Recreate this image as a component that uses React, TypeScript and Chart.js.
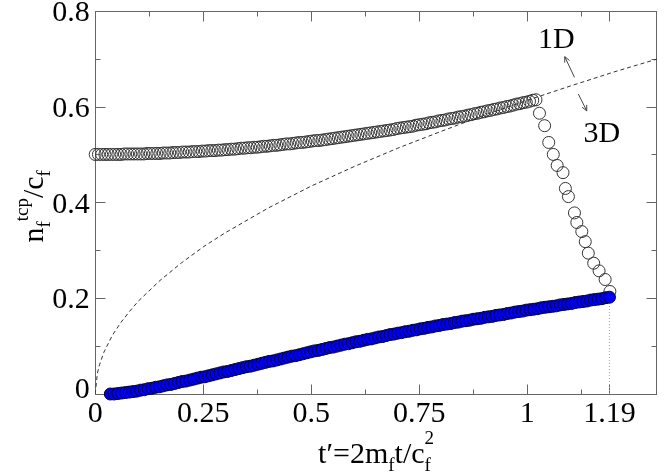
import React, { useEffect, useRef } from 'react';
import { Chart, registerables } from 'chart.js';

Chart.register(...registerables);

// ---- axis ticks ----
const X_MAJOR = [0, 0.25, 0.5, 0.75, 1, 1.19];
const X_LABELS = ['0', '0.25', '0.5', '0.75', '1', '1.19'];
const X_MINOR = [0.125, 0.375, 0.625, 0.875, 1.125];
const Y_MAJOR = [0, 0.2, 0.4, 0.6, 0.8];
const Y_LABELS = ['0', '0.2', '0.4', '0.6', '0.8'];
const Y_MINOR = [0.1, 0.3, 0.5, 0.7];

// ---- open circles: flat branch (t = OPEN_T0 + i*OPEN_DT) ----
const OPEN_T0 = 0;
const OPEN_DT = 0.0075;
const OPEN_FLAT_Y = [
  0.500, 0.500, 0.500, 0.500, 0.500, 0.500, 0.500, 0.500, 0.500, 0.501,
  0.501, 0.501, 0.501, 0.501, 0.501, 0.501, 0.502, 0.502, 0.502, 0.502,
  0.502, 0.503, 0.503, 0.503, 0.504, 0.504, 0.504, 0.505, 0.505, 0.505,
  0.506, 0.506, 0.506, 0.507, 0.507, 0.508, 0.508, 0.508, 0.509, 0.509,
  0.510, 0.510, 0.511, 0.511, 0.512, 0.513, 0.513, 0.514, 0.514, 0.515,
  0.515, 0.516, 0.517, 0.517, 0.518, 0.519, 0.519, 0.520, 0.521, 0.522,
  0.522, 0.523, 0.524, 0.525, 0.525, 0.526, 0.527, 0.528, 0.529, 0.529,
  0.530, 0.531, 0.532, 0.533, 0.534, 0.535, 0.536, 0.537, 0.538, 0.539,
  0.540, 0.541, 0.542, 0.543, 0.544, 0.545, 0.546, 0.547, 0.548, 0.549,
  0.550, 0.551, 0.552, 0.554, 0.555, 0.556, 0.557, 0.558, 0.559, 0.561,
  0.562, 0.563, 0.564, 0.566, 0.567, 0.568, 0.570, 0.571, 0.572, 0.574,
  0.575, 0.576, 0.578, 0.579, 0.580, 0.582, 0.583, 0.585, 0.586, 0.588,
  0.589, 0.591, 0.592, 0.594, 0.595, 0.597, 0.598, 0.600, 0.601, 0.603,
  0.605, 0.606, 0.608, 0.609, 0.611, 0.613, 0.614,
];
// ---- open circles: dropping branch ----
const OPEN_DROP_X = [1.028, 1.040, 1.0495, 1.060, 1.069, 1.0825, 1.088, 1.095, 1.109, 1.1145, 1.126, 1.134, 1.141, 1.1535, 1.166, 1.180, 1.191];
const OPEN_DROP_Y = [0.586, 0.560, 0.525, 0.500, 0.477, 0.462, 0.429, 0.412, 0.378, 0.358, 0.339, 0.318, 0.294, 0.273, 0.257, 0.239, 0.214];

// ---- filled blue circles (t = BLUE_T0 + k*BLUE_DT) ----
const BLUE_T0 = 0.035;
const BLUE_DT = 0.00875;
const BLUE_Y = [
  0.000, 0.000, 0.001, 0.002, 0.003, 0.004, 0.005, 0.006, 0.008, 0.009,
  0.011, 0.012, 0.014, 0.015, 0.017, 0.019, 0.020, 0.022, 0.024, 0.026,
  0.027, 0.029, 0.031, 0.033, 0.035, 0.036, 0.038, 0.040, 0.042, 0.044,
  0.046, 0.047, 0.049, 0.051, 0.053, 0.055, 0.057, 0.058, 0.060, 0.062,
  0.064, 0.066, 0.068, 0.069, 0.071, 0.073, 0.075, 0.077, 0.079, 0.080,
  0.082, 0.084, 0.086, 0.088, 0.090, 0.091, 0.093, 0.095, 0.097, 0.098,
  0.100, 0.102, 0.104, 0.105, 0.107, 0.109, 0.110, 0.112, 0.114, 0.115,
  0.117, 0.119, 0.120, 0.122, 0.124, 0.125, 0.127, 0.128, 0.130, 0.131,
  0.133, 0.134, 0.136, 0.137, 0.139, 0.140, 0.142, 0.143, 0.145, 0.146,
  0.147, 0.149, 0.150, 0.152, 0.153, 0.154, 0.156, 0.157, 0.158, 0.160,
  0.161, 0.162, 0.164, 0.165, 0.166, 0.168, 0.169, 0.171, 0.172, 0.173,
  0.175, 0.176, 0.177, 0.178, 0.180, 0.181, 0.182, 0.183, 0.184, 0.186,
  0.187, 0.188, 0.189, 0.191, 0.192, 0.193, 0.194, 0.196, 0.197, 0.198,
  0.199, 0.201, 0.202,
];

// ---- dashed 1D/3D boundary curve ----
const DASH_X = [0, 0.005, 0.01, 0.02, 0.04, 0.06, 0.08, 0.1, 0.15, 0.2, 0.25, 0.3, 0.4, 0.5, 0.6, 0.7, 0.8, 0.9, 1.0, 1.1, 1.2, 1.3];
const DASH_Y = [0, 0.043, 0.061, 0.087, 0.123, 0.150, 0.173, 0.194, 0.237, 0.274, 0.307, 0.336, 0.388, 0.434, 0.475, 0.513, 0.548, 0.582, 0.613, 0.643, 0.672, 0.699];

// ---- dotted vertical marker at t' = 1.19 ----
const DOT_X = [1.19, 1.19];
const DOT_Y = [0, 0.2];

// ---- annotations ----
const NOTE_1D = { text: '1D', x: 1.067, y: 0.7215 };
const NOTE_3D = { text: '3D', x: 1.1726, y: 0.5266 };
const ARROW_UP = { x0: 1.109, y0: 0.661, x1: 1.0866, y1: 0.704 };
const ARROW_DOWN = { x0: 1.118, y0: 0.626, x1: 1.1375, y1: 0.591 };

const SERIF = '"Liberation Serif", "Times New Roman", serif';
const MAIN = 30;
const SMALL = 19;

type Part = { t?: string; s?: 'sub' | 'sup'; stack?: [string, string] };

function partWidth(ctx: CanvasRenderingContext2D, p: Part) {
  if (p.stack) {
    ctx.font = `${SMALL}px ${SERIF}`;
    return Math.max(ctx.measureText(p.stack[0]).width, ctx.measureText(p.stack[1]).width);
  }
  ctx.font = `${p.s ? SMALL : MAIN}px ${SERIF}`;
  return ctx.measureText(p.t || '').width;
}

function drawRich(ctx: CanvasRenderingContext2D, parts: Part[], cx: number, baseY: number, subOff: number, supOff: number) {
  let total = 0;
  for (const p of parts) total += partWidth(ctx, p);
  let x = cx - total / 2;
  ctx.textAlign = 'left';
  ctx.textBaseline = 'alphabetic';
  for (const p of parts) {
    const w = partWidth(ctx, p);
    if (p.stack) {
      ctx.font = `${SMALL}px ${SERIF}`;
      ctx.fillText(p.stack[0], x, baseY + subOff);
      ctx.fillText(p.stack[1], x, baseY + supOff);
    } else {
      ctx.font = `${p.s ? SMALL : MAIN}px ${SERIF}`;
      const dy = p.s === 'sub' ? subOff : p.s === 'sup' ? supOff : 0;
      ctx.fillText(p.t || '', x, baseY + dy);
    }
    x += w;
  }
}

function arrow(ctx: CanvasRenderingContext2D, x0: number, y0: number, x1: number, y1: number) {
  ctx.beginPath();
  ctx.moveTo(x0, y0);
  ctx.lineTo(x1, y1);
  const a = Math.atan2(y1 - y0, x1 - x0);
  const L = 6;
  const s = 0.45;
  ctx.moveTo(x1 - L * Math.cos(a - s), y1 - L * Math.sin(a - s));
  ctx.lineTo(x1, y1);
  ctx.lineTo(x1 - L * Math.cos(a + s), y1 - L * Math.sin(a + s));
  ctx.stroke();
}

const decor = {
  id: 'decor',
  beforeDatasetsDraw(chart: any) {
    const ctx: CanvasRenderingContext2D = chart.ctx;
    const { left, right, top, bottom } = chart.chartArea;
    const xs = chart.scales.x;
    const ys = chart.scales.y;
    ctx.save();
    ctx.strokeStyle = '#666';
    ctx.lineWidth = 1;
    const L = Math.round(left) + 0.5;
    const R = Math.round(right) - 0.5;
    const T = Math.round(top) + 0.5;
    const B = Math.round(bottom) + 0.5;
    ctx.strokeRect(L, T, R - L, B - T);
    ctx.beginPath();
    const xt = (v: number, len: number) => {
      const px = Math.round(xs.getPixelForValue(v)) + 0.5;
      ctx.moveTo(px, B); ctx.lineTo(px, B - len);
      ctx.moveTo(px, T); ctx.lineTo(px, T + len);
    };
    const yt = (v: number, len: number) => {
      const py = Math.round(ys.getPixelForValue(v)) + 0.5;
      ctx.moveTo(L, py); ctx.lineTo(L + len, py);
      ctx.moveTo(R, py); ctx.lineTo(R - len, py);
    };
    X_MAJOR.forEach((v) => xt(v, 10));
    X_MINOR.forEach((v) => xt(v, 5));
    Y_MAJOR.forEach((v) => yt(v, 10));
    Y_MINOR.forEach((v) => yt(v, 5));
    ctx.stroke();
    ctx.restore();
  },
  afterDatasetsDraw(chart: any) {
    const ctx: CanvasRenderingContext2D = chart.ctx;
    const { left, right, top, bottom } = chart.chartArea;
    const xs = chart.scales.x;
    const ys = chart.scales.y;
    ctx.save();
    ctx.fillStyle = '#000';
    ctx.font = `${MAIN}px ${SERIF}`;
    ctx.textBaseline = 'alphabetic';
    // x tick labels
    ctx.textAlign = 'center';
    X_MAJOR.forEach((v, i) => {
      ctx.fillText(X_LABELS[i], xs.getPixelForValue(v), bottom + 28.3);
    });
    // y tick labels
    ctx.textAlign = 'right';
    Y_MAJOR.forEach((v, i) => {
      const py = ys.getPixelForValue(v);
      ctx.fillText(Y_LABELS[i], left - 5.5, py + (i === 0 ? 4 : 10.3));
    });
    // x title
    drawRich(ctx, [{ t: 't\u2032=2m' }, { t: 'f', s: 'sub' }, { t: 't/c' }, { stack: ['f', '2'] }],
      (left + right) / 2, 463, 8, -19);
    // y title
    ctx.save();
    ctx.translate(43, (top + bottom) / 2 + 4);
    ctx.rotate(-Math.PI / 2);
    drawRich(ctx, [{ t: 'n' }, { t: 'f', s: 'sub' }, { t: 'tcp', s: 'sup' }, { t: '/c' }, { t: 'f', s: 'sub' }],
      0, 0, 7, -15);
    ctx.restore();
    // annotations
    ctx.font = `${MAIN}px ${SERIF}`;
    ctx.textAlign = 'center';
    ctx.fillText(NOTE_1D.text, xs.getPixelForValue(NOTE_1D.x), ys.getPixelForValue(NOTE_1D.y));
    ctx.fillText(NOTE_3D.text, xs.getPixelForValue(NOTE_3D.x), ys.getPixelForValue(NOTE_3D.y));
    ctx.strokeStyle = '#444';
    ctx.lineWidth = 1;
    [ARROW_UP, ARROW_DOWN].forEach((a) => {
      arrow(ctx, xs.getPixelForValue(a.x0), ys.getPixelForValue(a.y0), xs.getPixelForValue(a.x1), ys.getPixelForValue(a.y1));
    });
    ctx.restore();
  },
};

export default function App() {
  const ref = useRef<HTMLCanvasElement | null>(null);
  useEffect(() => {
    if (!ref.current) return;
    const blue = BLUE_Y.map((y, k) => ({ x: BLUE_T0 + k * BLUE_DT, y }));
    const open = OPEN_FLAT_Y.map((y, i) => ({ x: OPEN_T0 + i * OPEN_DT, y }))
      .concat(OPEN_DROP_X.map((x, j) => ({ x, y: OPEN_DROP_Y[j] })));
    const dash = DASH_X.map((x, i) => ({ x, y: DASH_Y[i] }));
    const dot = DOT_X.map((x, i) => ({ x, y: DOT_Y[i] }));
    const chart = new Chart(ref.current, {
      type: 'scatter',
      data: {
        datasets: [
          {
            data: blue, showLine: false, pointRadius: 6, pointBorderWidth: 1,
            pointBackgroundColor: '#0000f0', pointBorderColor: '#000040', clip: false,
          } as any,
          {
            data: open, showLine: false, pointRadius: 6, pointBorderWidth: 1,
            pointBackgroundColor: 'rgba(0,0,0,0)', pointBorderColor: '#333', clip: false,
          } as any,
          {
            data: dash, showLine: true, pointRadius: 0, borderWidth: 1, borderColor: '#333',
            borderDash: [4, 3], tension: 0,
          } as any,
          {
            data: dot, showLine: true, pointRadius: 0, borderWidth: 1, borderColor: '#aaa',
            borderDash: [1, 2],
          } as any,
        ],
      },
      options: {
        responsive: false,
        animation: false,
        events: [],
        layout: { padding: { top: 10.7, right: 1.7, left: 0, bottom: 0 } },
        plugins: { legend: { display: false }, tooltip: { enabled: false } },
        scales: {
          x: {
            type: 'linear', min: 0, max: 1.3,
            grid: { display: false }, border: { display: false }, ticks: { display: false },
            afterFit: (s: any) => { s.height = 81; },
          },
          y: {
            type: 'linear', min: 0, max: 0.8,
            grid: { display: false }, border: { display: false }, ticks: { display: false },
            afterFit: (s: any) => { s.width = 95.2; },
          },
        },
      } as any,
      plugins: [decor],
    });
    return () => chart.destroy();
  }, []);
  return (
    <div style={{ position: 'absolute', left: 0, top: 0, width: 664, height: 475, background: '#fff' }}>
      <canvas ref={ref} width={664} height={475} style={{ display: 'block' }} />
    </div>
  );
}
